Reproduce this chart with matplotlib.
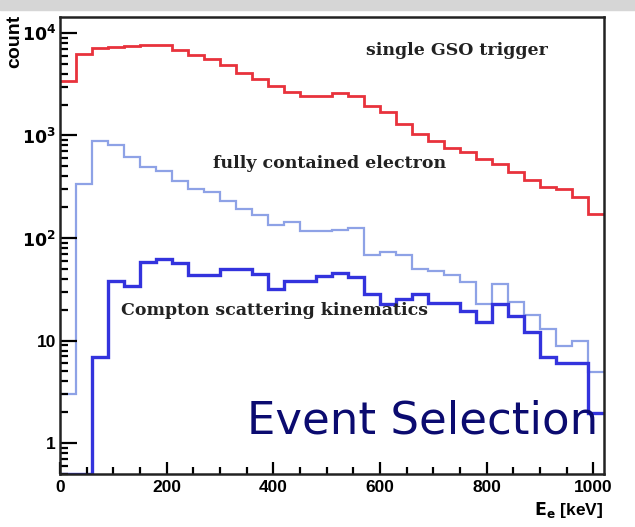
import numpy as np
import matplotlib
matplotlib.use("Agg")
import matplotlib.pyplot as plt
from matplotlib.patches import Rectangle
from matplotlib.ticker import FixedLocator, MultipleLocator, NullFormatter

# 30 keV bins from 0 to 1020 keV
bin_edges = np.arange(0, 1021, 30)

single_gso = [3410, 6210, 7100, 7360, 7500, 7550, 7550, 6840, 6060, 5620,
              4860, 4110, 3540, 3050, 2660, 2440, 2440, 2620, 2440, 1950,
              1680, 1290, 1030, 875, 755, 684, 590, 527, 437, 368,
              317, 301, 250, 172]

fully_contained = [3.0, 337, 889, 807, 621, 496, 447, 363, 301, 284,
                   232, 192, 169, 135, 142, 118, 118, 120, 124, 67.6,
                   72.8, 69, 50, 47.5, 43.2, 37.2, 22.9, 35.8, 23.7, 17.6,
                   13.1, 8.8, 10.0, 4.9]

compton_kin = [0.5, 0.5, 6.9, 38.5, 34, 59, 63, 57, 43.8, 43.8,
               50, 50, 44.8, 32, 38.5, 38.5, 43, 45.5, 41.6, 28.6,
               22.9, 25.6, 28.2, 23.2, 23.2, 19.3, 15.1, 22.5, 17.2, 12.1,
               6.9, 6.05, 6.05, 1.97]

y_tick_values = [1, 10, 100, 1000, 10000]
y_tick_labels = ["1", "10", r"$\mathbf{10^2}$", r"$\mathbf{10^3}$", r"$\mathbf{10^4}$"]
x_tick_values = [0, 200, 400, 600, 800, 1000]

W, H = 635, 527
fig = plt.figure(figsize=(W / 100, H / 100), dpi=100)
fig.patches.append(Rectangle((0, 1 - 10 / H), 1, 10 / H, transform=fig.transFigure,
                             color="#d6d6d6", zorder=0))

ax = fig.add_axes([60 / W, 1 - 474 / H, (604 - 60) / W, (474 - 17) / H])

ax.stairs(single_gso, bin_edges, baseline=None, color="#e8323c", lw=2.0)
ax.stairs(fully_contained, bin_edges, baseline=None, color="#8ea2e6", lw=1.6)
ax.stairs(compton_kin, bin_edges, baseline=None, color="#3333dd", lw=2.4)

ax.set_yscale("log")
ax.set_xlim(0, 1020)
ax.set_ylim(0.5, 14300)

ax.yaxis.set_major_locator(FixedLocator(y_tick_values))
ax.set_yticklabels(y_tick_labels)
ax.yaxis.set_minor_locator(FixedLocator(
    [m * 10.0 ** e for e in range(-1, 5) for m in range(2, 10)]))
ax.yaxis.set_minor_formatter(NullFormatter())
ax.set_xticks(x_tick_values)
ax.xaxis.set_minor_locator(MultipleLocator(50))

for lab in ax.get_xticklabels() + ax.get_yticklabels():
    lab.set_fontweight("bold")
    lab.set_fontfamily("Liberation Sans")
    lab.set_fontsize(12.5)

ax.tick_params(axis="x", which="major", direction="in", length=9, width=1.6, pad=4,
               top=False)
ax.tick_params(axis="x", which="minor", direction="in", length=5, width=1.6, top=False)
ax.tick_params(axis="y", which="major", direction="in", length=12, width=1.6, pad=3,
               right=False)
ax.tick_params(axis="y", which="minor", direction="in", length=6, width=1.6, right=False)

for sp in ax.spines.values():
    sp.set_linewidth(1.8)
    sp.set_color("#222222")

serif = dict(family="DejaVu Serif", weight="bold", fontsize=12.5, color="#222222")
ax.text(745, 6700, "single GSO trigger", ha="center", va="center", **serif)
ax.text(505, 531, "fully contained electron", ha="center", va="center", **serif)
ax.text(403, 19.7, "Compton scattering kinematics", ha="center", va="center", **serif)

ax.text(1009, 1.25, "Event Selection", ha="right", va="baseline",
        family="DejaVu Sans", fontsize=32.4, color="#0b0b70")

fig.text(15 / W, 1 - 15 / H, "count", rotation=90, ha="center", va="top",
         family="Liberation Sans", weight="bold", fontsize=14)
fig.text(603 / W, 1 - 515 / H, r"$\mathbf{E_e}$ [keV]", ha="right", va="baseline",
         family="Liberation Sans", weight="bold", fontsize=12.5)

fig.savefig("out.png", dpi=100)
